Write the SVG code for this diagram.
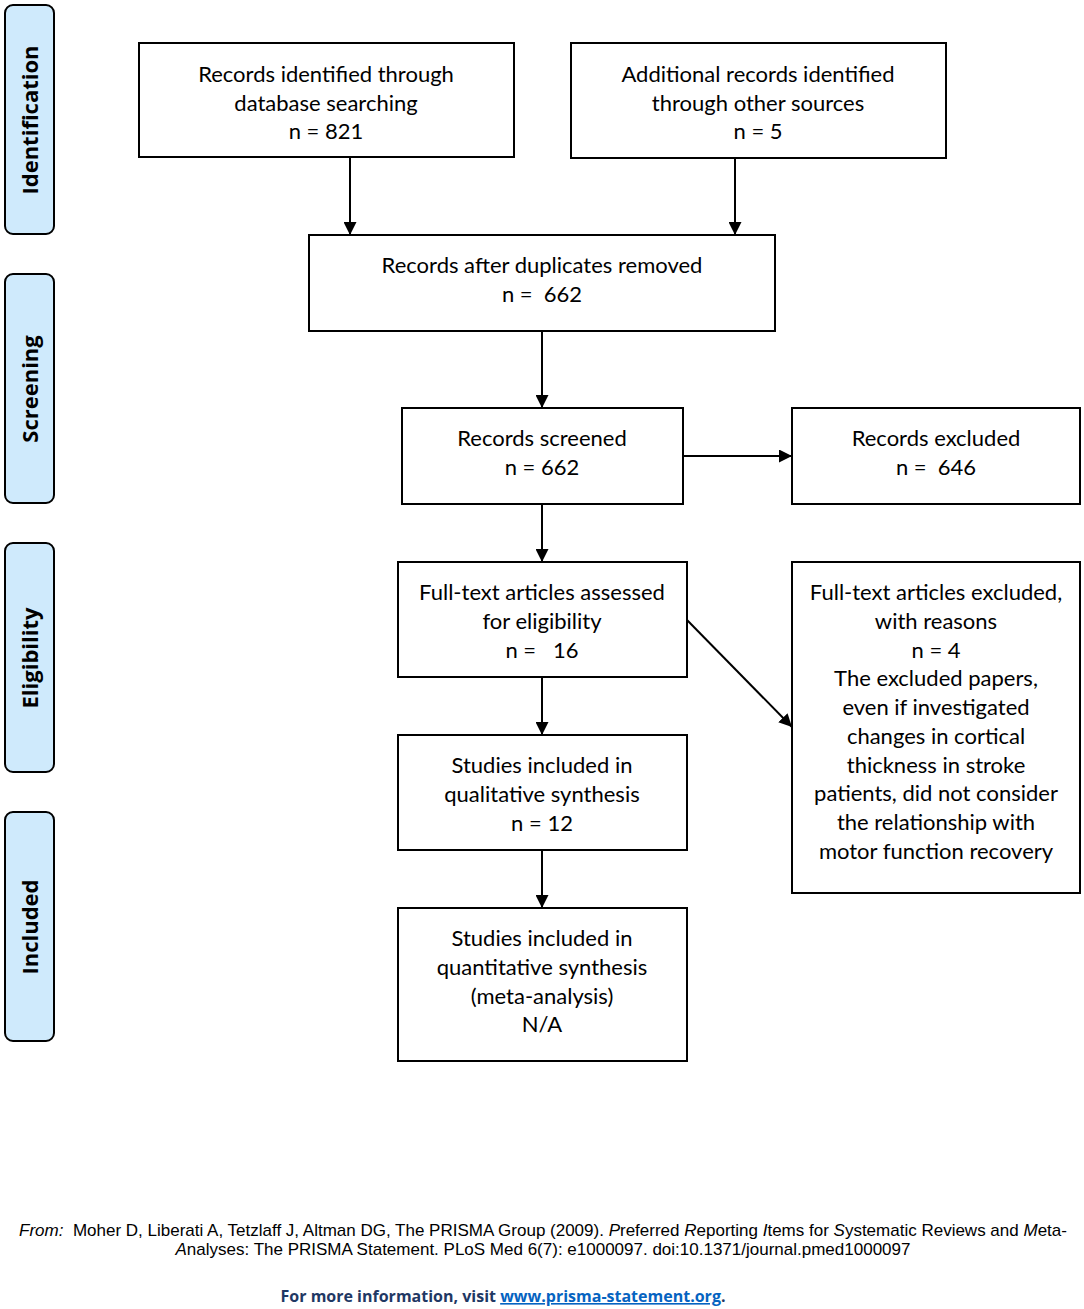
<svg xmlns="http://www.w3.org/2000/svg" width="1084" height="1309" viewBox="0 0 1084 1309">
<style>
.box{fill:#fff;stroke:#000;stroke-width:2}
.side{fill:#cfeafc;stroke:#000;stroke-width:2}
.t{font-family:Lato,"Open Sans",sans-serif;font-size:22px;fill:#000;text-anchor:middle}
.st{font-family:"Open Sans","Noto Sans",sans-serif;font-size:22px;font-weight:bold;fill:#000;text-anchor:middle}
.c{stroke:#000;stroke-width:2;fill:none;marker-end:url(#ah)}
.f{font-family:"Liberation Sans",Arial,sans-serif;font-size:17px;fill:#000;text-anchor:middle}
</style>
<defs>
<marker id="ah" viewBox="0 0 10 10" refX="10" refY="5" markerWidth="6.5" markerHeight="6.5" orient="auto" markerUnits="strokeWidth">
<path d="M0,0 L10,5 L0,10 z" fill="#000"/>
</marker>
</defs>
<rect width="1084" height="1309" fill="#fff"/>
<g id="side-identification"><rect class="side" x="5" y="5" width="49" height="229" rx="8"/><text class="st" transform="translate(38,120) rotate(-90)">Identification</text></g>
<g id="side-screening"><rect class="side" x="5" y="274" width="49" height="229" rx="8"/><text class="st" transform="translate(38,389) rotate(-90)">Screening</text></g>
<g id="side-eligibility"><rect class="side" x="5" y="543" width="49" height="229" rx="8"/><text class="st" transform="translate(38,658) rotate(-90)">Eligibility</text></g>
<g id="side-included"><rect class="side" x="5" y="812" width="49" height="229" rx="8"/><text class="st" transform="translate(38,927) rotate(-90)">Included</text></g>

<g id="connectors">
<line class="c" x1="350" y1="158" x2="350" y2="235"/>
<line class="c" x1="735" y1="158" x2="735" y2="235"/>
<line class="c" x1="542" y1="331" x2="542" y2="408"/>
<line class="c" x1="683" y1="456" x2="792" y2="456"/>
<line class="c" x1="542" y1="504" x2="542" y2="562"/>
<line class="c" x1="687" y1="620" x2="792" y2="727"/>
<line class="c" x1="542" y1="677" x2="542" y2="735"/>
<line class="c" x1="542" y1="850" x2="542" y2="908"/>
</g>

<g id="n1"><rect class="box" x="139" y="43" width="375" height="114"/>
<text class="t" x="326" y="82">Records identified through</text><text class="t" x="326" y="111">database searching</text><text class="t" x="326" y="139">n = 821</text></g>
<g id="n2"><rect class="box" x="571" y="43" width="375" height="115"/>
<text class="t" x="758" y="82">Additional records identified</text><text class="t" x="758" y="111">through other sources</text><text class="t" x="758" y="139">n = 5</text></g>
<g id="n3"><rect class="box" x="309" y="235" width="466" height="96"/>
<text class="t" x="542" y="273">Records after duplicates removed</text><text class="t" x="542" y="302" xml:space="preserve">n =  662</text></g>
<g id="n4"><rect class="box" x="402" y="408" width="281" height="96"/>
<text class="t" x="542" y="446">Records screened</text><text class="t" x="542" y="475">n = 662</text></g>
<g id="n5"><rect class="box" x="792" y="408" width="288" height="96"/>
<text class="t" x="936" y="446">Records excluded</text><text class="t" x="936" y="475" xml:space="preserve">n =  646</text></g>
<g id="n6"><rect class="box" x="398" y="562" width="289" height="115"/>
<text class="t" x="542" y="600">Full-text articles assessed</text><text class="t" x="542" y="629">for eligibility</text><text class="t" x="542" y="658" xml:space="preserve">n =   16</text></g>
<g id="n7"><rect class="box" x="792" y="562" width="288" height="331"/>
<text class="t" x="936" y="600">Full-text articles excluded,</text>
<text class="t" x="936" y="629">with reasons</text>
<text class="t" x="936" y="658">n = 4</text>
<text class="t" x="936" y="686">The excluded papers,</text>
<text class="t" x="936" y="715">even if investigated</text>
<text class="t" x="936" y="744">changes in cortical</text>
<text class="t" x="936" y="773">thickness in stroke</text>
<text class="t" x="936" y="801">patients, did not consider</text>
<text class="t" x="936" y="830">the relationship with</text>
<text class="t" x="936" y="859">motor function recovery</text></g>
<g id="n8"><rect class="box" x="398" y="735" width="289" height="115"/>
<text class="t" x="542" y="773">Studies included in</text><text class="t" x="542" y="802">qualitative synthesis</text><text class="t" x="542" y="831">n = 12</text></g>
<g id="n9"><rect class="box" x="398" y="908" width="289" height="153"/>
<text class="t" x="542" y="946">Studies included in</text><text class="t" x="542" y="975">quantitative synthesis</text><text class="t" x="542" y="1004">(meta-analysis)</text><text class="t" x="542" y="1032">N/A</text></g>

<g id="footer">
<text class="f" x="543" y="1236" xml:space="preserve"><tspan font-style="italic">From:</tspan>  Moher D, Liberati A, Tetzlaff J, Altman DG, The PRISMA Group (2009). <tspan font-style="italic">P</tspan>referred <tspan font-style="italic">R</tspan>eporting <tspan font-style="italic">I</tspan>tems for <tspan font-style="italic">S</tspan>ystematic Reviews and <tspan font-style="italic">M</tspan>eta-</text>
<text class="f" x="543" y="1255"><tspan font-style="italic">A</tspan>nalyses: The PRISMA Statement. PLoS Med 6(7): e1000097. doi:10.1371/journal.pmed1000097</text>
<text x="503" y="1302" style="font-family:'Open Sans','Noto Sans',sans-serif;font-size:16px;font-weight:bold;text-anchor:middle" fill="#1f3864">For more information, visit <tspan fill="#0563c1" text-decoration="underline">www.prisma-statement.org</tspan>.</text>
</g>
</svg>
